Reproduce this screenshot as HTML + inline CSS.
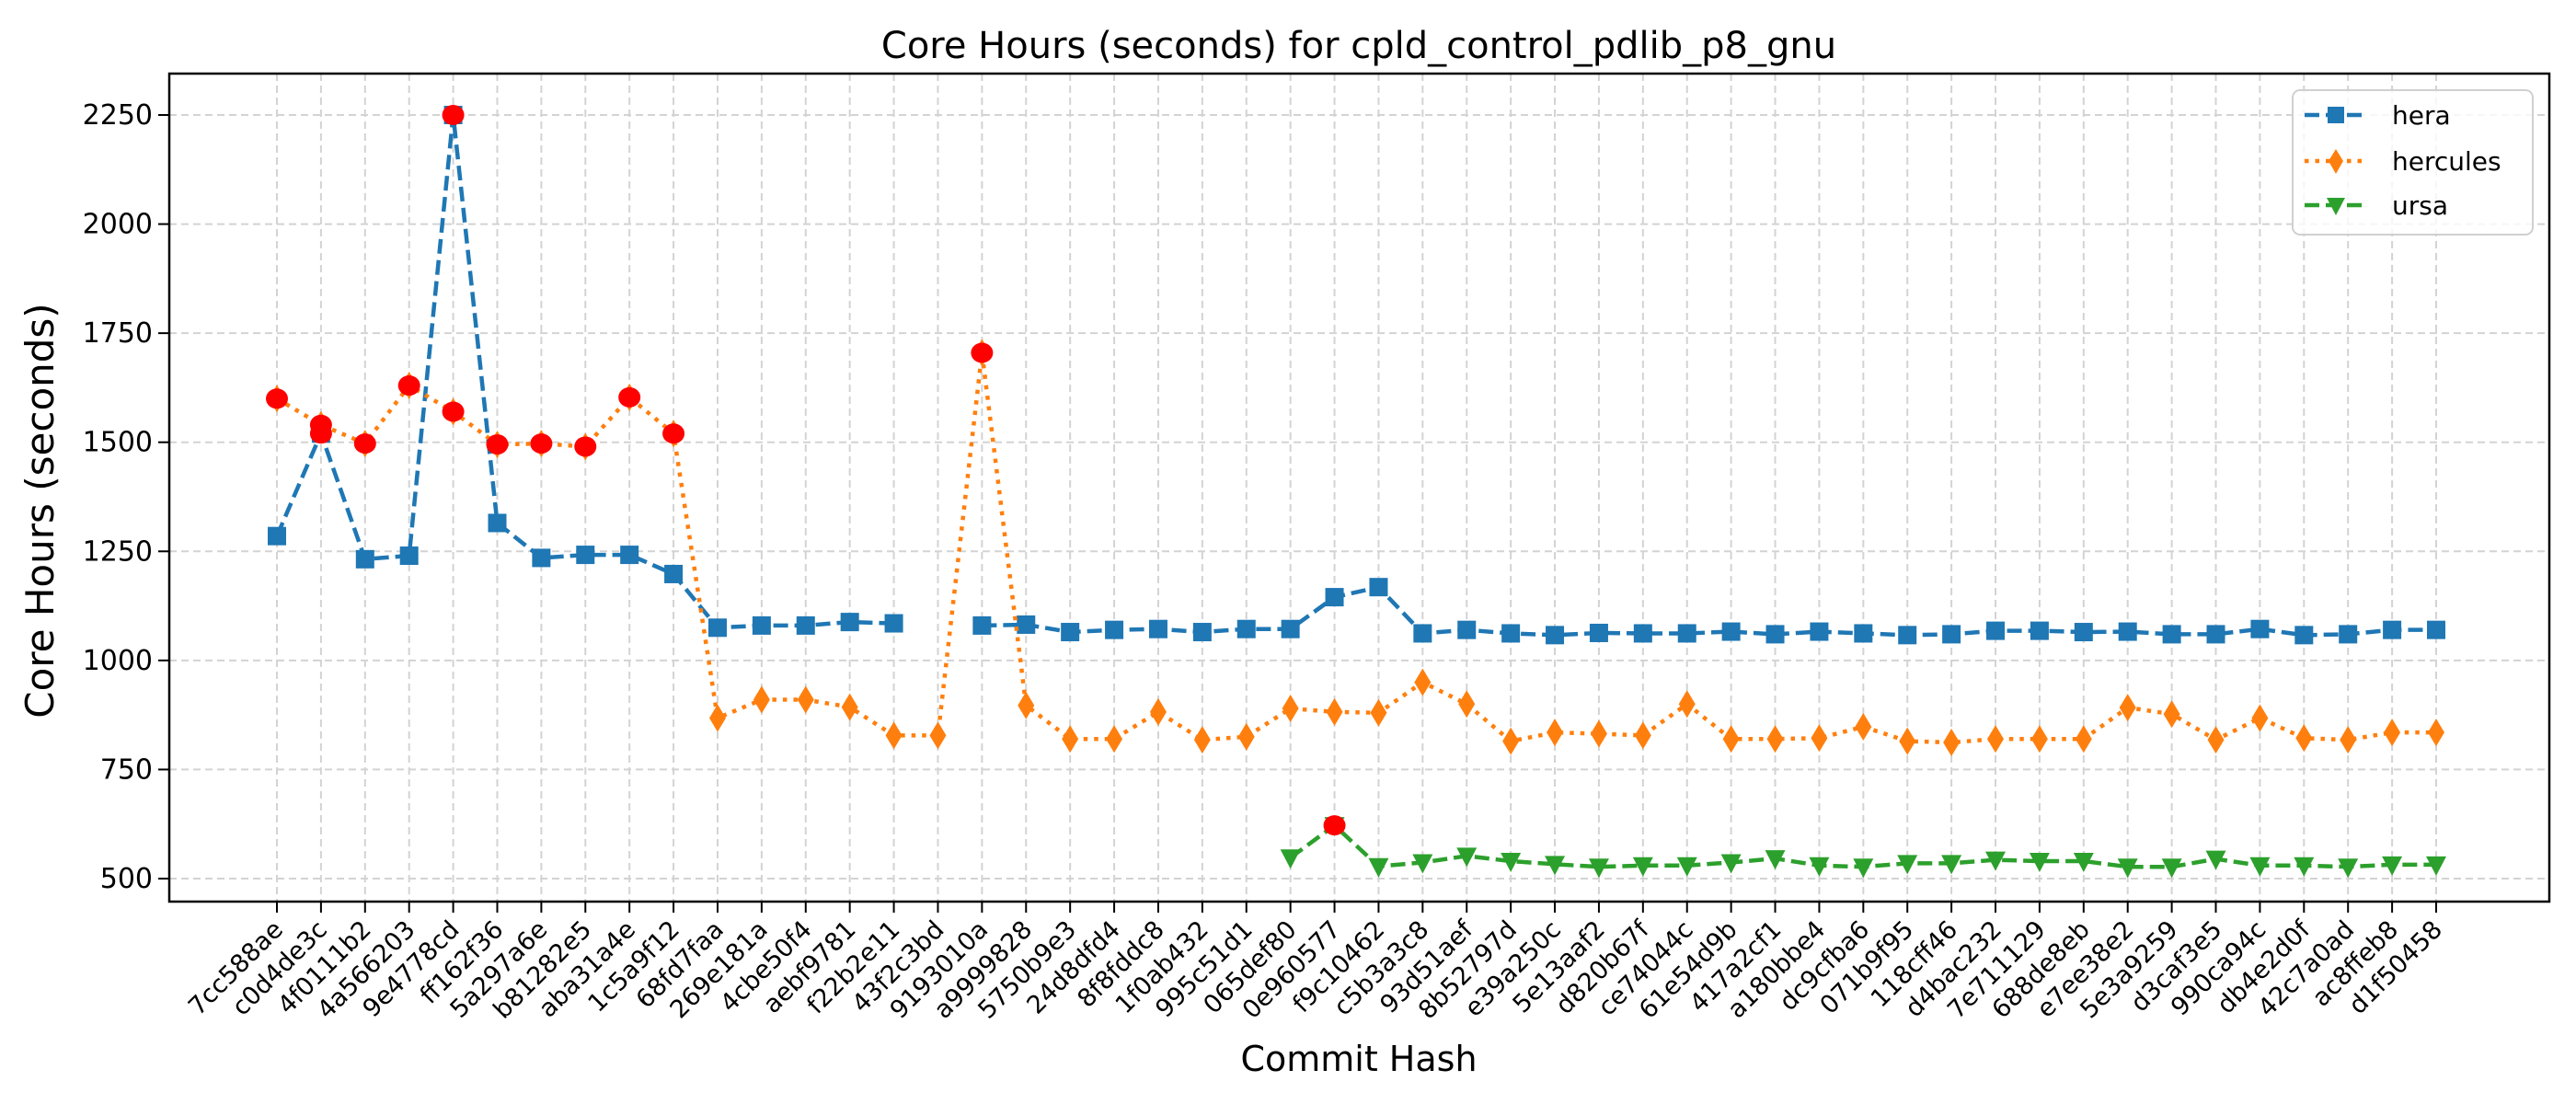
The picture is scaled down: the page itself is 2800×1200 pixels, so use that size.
<!DOCTYPE html>
<html><head><meta charset="utf-8"><style>
body{margin:0;background:#fff}
svg{display:block;font-family:"DejaVu Sans","Liberation Sans",sans-serif}
</style></head><body>
<svg id="chart" width="2800" height="1200" viewBox="0 0 2800 1200">
<rect width="2800" height="1200" fill="#fff"/>
<text x="1477" y="63" font-size="40" text-anchor="middle">Core Hours (seconds) for cpld_control_pdlib_p8_gnu</text>
<g id="grid"></g><g id="series"></g><g id="axes"></g>
<text x="1477" y="1164" font-size="38" text-anchor="middle">Commit Hash</text>
<text transform="translate(58,555) rotate(-90)" font-size="42" text-anchor="middle">Core Hours (seconds)</text>
<g>
<rect x="2492" y="98" width="261" height="157" rx="8" fill="#fff" fill-opacity="0.8" stroke="#d0d0d0" stroke-width="2"/>
<g>
<line x1="2505" y1="125" x2="2572" y2="125" stroke="#1f77b4" stroke-width="4.5" stroke-dasharray="16,7"/>
<rect x="2530" y="116" width="18" height="18" fill="#1f77b4"/>
<text x="2600" y="135" font-size="28">hera</text></g>
<g>
<line x1="2505" y1="175" x2="2572" y2="175" stroke="#ff7f0e" stroke-width="4.5" stroke-dasharray="4.5,7"/>
<polygon points="2539,162 2547,175 2539,189 2531,175" fill="#ff7f0e"/>
<text x="2600" y="185" font-size="28">hercules</text></g>
<g>
<line x1="2505" y1="223" x2="2572" y2="223" stroke="#2ca02c" stroke-width="4.5" stroke-dasharray="16,7"/>
<polygon points="2529,215 2549,215 2539,234" fill="#2ca02c"/>
<text x="2600" y="233" font-size="28">ursa</text></g>
</g>
</svg>
<script>
const categories=["7cc588ae","c0d4de3c","4f0111b2","4a566203","9e4778cd","ff162f36","5a297a6e","b81282e5","aba31a4e","1c5a9f12","68fd7faa","269e181a","4cbe50f4","aebf9781","f22b2e11","43f2c3bd","9193010a","a9999828","5750b9e3","24d8dfd4","8f8fddc8","1f0ab432","995c51d1","065def80","0e960577","f9c10462","c5b3a3c8","93d51aef","8b52797d","e39a250c","5e13aaf2","d820b67f","ce74044c","61e54d9b","417a2cf1","a180bbe4","dc9cfba6","071b9f95","118cff46","d4bac232","7e711129","688de8eb","e7ee38e2","5e3a9259","d3caf3e5","990ca94c","db4e2d0f","42c7a0ad","ac8ffeb8","d1f50458"];
const heraValues=[1285,1520,1232,1240,2250,1315,1235,1242,1242,1198,1075,1080,1080,1088,1085,null,1080,1082,1065,1070,1072,1065,1072,1072,1145,1168,1062,1070,1062,1058,1063,1062,1062,1066,1060,1066,1062,1058,1060,1068,1068,1065,1066,1060,1060,1072,1058,1060,1070,1070];
const herculesValues=[1600,1540,1497,1630,1570,1495,1497,1490,1603,1520,868,910,910,893,828,828,1705,897,820,820,882,818,825,890,882,880,950,900,815,835,832,828,900,820,820,822,848,815,812,820,820,820,892,877,818,868,822,818,835,835];
const ursaValues=[null,null,null,null,null,null,null,null,null,null,null,null,null,null,null,null,null,null,null,null,null,null,null,548,622,528,537,552,540,533,527,530,530,537,546,530,527,535,535,543,540,540,527,527,545,530,530,527,532,532];
const yTicks=[500,750,1000,1250,1500,1750,2000,2250];
const anomalies={hera:[1,4],hercules:[0,1,2,3,4,5,6,7,8,9,16],ursa:[24]};

const L=184,R=2771,T=80,B=980;
const x=i=>301+i*(2648-301)/(categories.length-1);
const y=v=>955-(v-500)*(830/1750);
const NS="http://www.w3.org/2000/svg";
function mk(tag,attrs,parent){const e=document.createElementNS(NS,tag);for(const k in attrs)e.setAttribute(k,attrs[k]);parent.appendChild(e);return e;}
const grid=document.getElementById('grid'),ser=document.getElementById('series'),ax=document.getElementById('axes');
categories.forEach((c,i)=>{
 const g=mk('line',{x1:x(i),x2:x(i),y1:T,y2:B,stroke:'#d3d3d3','stroke-width':2,'stroke-dasharray':'8,5'},grid);
 
 
 const t=mk('line',{x1:x(i),x2:x(i),y1:B,y2:B+12,stroke:'#000','stroke-width':2},ax);
 
 
 const lb=mk('text',{x:0,y:0,'font-size':27,'text-anchor':'end',transform:`translate(${x(i)+8},${B+32}) rotate(-45)`},ax);
 lb.textContent=c;
 
 
});
yTicks.forEach(v=>{
 const g=mk('line',{x1:L,x2:R,y1:y(v),y2:y(v),stroke:'#d3d3d3','stroke-width':2,'stroke-dasharray':'8,5'},grid);
 
 
 const t=mk('line',{x1:L-12,x2:L,y1:y(v),y2:y(v),stroke:'#000','stroke-width':2},ax);
 
 
 const lb=mk('text',{x:L-18,y:y(v)+10,'font-size':30,'text-anchor':'end'},ax);
 lb.textContent=v;
 
 
});
const frame=mk('rect',{x:L,y:T,width:R-L,height:B-T,fill:'none',stroke:'#000','stroke-width':2.5},ax);



function drawSeries(name,vals,color,dash,marker){
 const grp=mk('g',{},ser);
 
 
 let segs=[],cur=[];
 vals.forEach((v,i)=>{if(v==null){if(cur.length)segs.push(cur);cur=[];}else cur.push([x(i),y(v)]);});
 if(cur.length)segs.push(cur);
 segs.forEach(s=>{const p=mk('polyline',{points:s.map(q=>q.join(',')).join(' '),fill:'none',stroke:color,'stroke-width':4.5,'stroke-dasharray':dash},grp);
  
  });
 vals.forEach((v,i)=>{if(v==null)return;const cx=x(i),cy=y(v);let m;
  if(marker==='s')m=mk('rect',{x:cx-10,y:cy-10,width:20,height:20,fill:color},grp);
  else if(marker==='d')m=mk('polygon',{points:`${cx},${cy-15} ${cx+9},${cy} ${cx},${cy+15} ${cx-9},${cy}`,fill:color},grp);
  else m=mk('polygon',{points:`${cx-11},${cy-9} ${cx+11},${cy-9} ${cx},${cy+12}`,fill:color},grp);
  
  });
}
drawSeries('hera',heraValues,'#1f77b4','16,7','s');
drawSeries('hercules',herculesValues,'#ff7f0e','4.5,7','d');
drawSeries('ursa',ursaValues,'#2ca02c','16,7','v');
const valsBy={hera:heraValues,hercules:herculesValues,ursa:ursaValues};
for(const k in anomalies){anomalies[k].forEach(i=>{
 const c=mk('ellipse',{cx:x(i),cy:y(valsBy[k][i]),rx:12,ry:11,fill:'#ff0000'},ser);
 
 
});}
</script>
</body></html>
